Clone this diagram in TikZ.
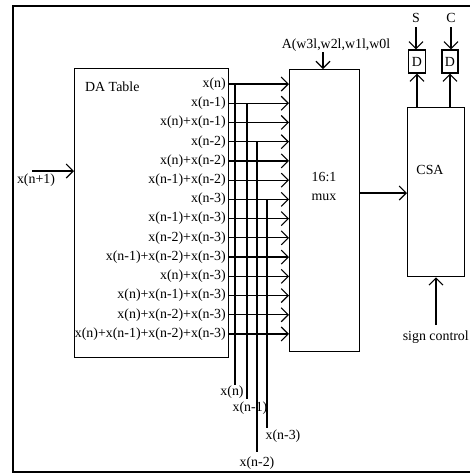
\documentclass[tikz,border=0pt]{standalone}
\usepackage{fontspec}
\setmainfont{Liberation Serif}
\usetikzlibrary{arrows.meta}
\begin{document}
\begin{tikzpicture}[x=1pt,y=-1pt,
  lw/.style={line width=1.3pt},
  box/.style={draw,lw,inner sep=0pt},
  arr/.style={lw,-{Straight Barb[length=7pt,width=14pt,line width=1.1pt]}},
  lbl/.style={font=\fontsize{13.9}{15}\selectfont,inner sep=0pt}]
\useasboundingbox (0,0) rectangle (470,475);
% outer frame
\draw[lw] (480,6) -- (13,6) -- (13,472) -- (480,472);
% boxes
\node[box,minimum width=154pt,minimum height=289pt,anchor=north west] (da) at (74,68) {};
\node[box,minimum width=70pt,minimum height=282pt,anchor=north west] (mux) at (289,69) {};
\node[box,minimum width=57pt,minimum height=169pt,anchor=north west] (csa) at (407,107) {};
\node[box,lbl,minimum width=17pt,minimum height=23pt] (d1) at (417,61.5) {D};
\node[box,lbl,minimum width=16pt,minimum height=23pt] (d2) at (450,61.5) {D};
% box labels
\node[lbl,anchor=west] (datl) at (85,87) {DA Table};
\node[lbl] (mx1) at (324,177) {16:1};
\node[lbl] (mx2) at (324,197) {mux};
\node[lbl] (csal) at (430,170) {CSA};
% rows
\foreach \t [count=\i] in {x(n),x(n-1),x(n)+x(n-1),x(n-2),x(n)+x(n-2),x(n-1)+x(n-2),x(n-3),x(n-1)+x(n-3),x(n-2)+x(n-3),x(n-1)+x(n-2)+x(n-3),x(n)+x(n-3),x(n)+x(n-1)+x(n-3),x(n)+x(n-2)+x(n-3),x(n)+x(n-1)+x(n-2)+x(n-3)}{
  \pgfmathsetmacro\yy{84+19.23*(\i-1)}
  \node[lbl,anchor=east] (r\i) at (226,\yy) {\t};
  \draw[arr] (da.east |- r\i) -- (mux.west |- r\i);
}
% vertical taps
\coordinate (v0t) at (235,84);  \coordinate (v0b) at (235,385);
\coordinate (v1t) at (247,103.2); \coordinate (v1b) at (247,399);
\coordinate (v2t) at (257,141.7); \coordinate (v2b) at (257,452);
\coordinate (v3t) at (267,199.4); \coordinate (v3b) at (267,428);
\draw[lw] (v0t) -- (v0b);
\draw[lw] (v1t) -- (v1b);
\draw[lw] (v2t) -- (v2b);
\draw[lw] (v3t) -- (v3b);
\node[lbl] (b0) at (232,392) {x(n)};
\node[lbl] (b1) at (250,408) {x(n-1)};
\node[lbl] (b3) at (283,436) {x(n-3)};
\node[lbl] (b2) at (257,463) {x(n-2)};
% input
\coordinate (inx) at (32,171);
\draw[arr] (inx) -- (da.west |- inx);
\node[lbl,anchor=north] (inl) at (36,174) {x(n+1)};
% select
\node[lbl] (al) at (336,45) {A(w3l,w2l,w1l,w0l};
\coordinate (as) at (323,52);
\draw[arr] (as) -- (mux.north -| as);
% mux to csa
\coordinate (mo) at (359,193);
\draw[arr] (mux.east |- mo) -- (csa.west |- mo);
% D flip flops
\node[lbl] (sl) at (416,18) {S};
\node[lbl] (cl) at (451,18) {C};
\draw[arr] (sl.south |- 0,27) -- (d1.north -| sl.south);
\draw[arr] (cl.south |- 0,27) -- (d2.north -| cl.south);
\draw[arr] (csa.north -| d1) -- (d1.south);
\draw[arr] (csa.north -| d2) -- (d2.south);
% sign control
\node[lbl,anchor=east] (sc) at (469,337) {sign control};
\coordinate (scs) at (436,325);
\draw[arr] (scs) -- (csa.south -| scs);
\end{tikzpicture}
\end{document}
